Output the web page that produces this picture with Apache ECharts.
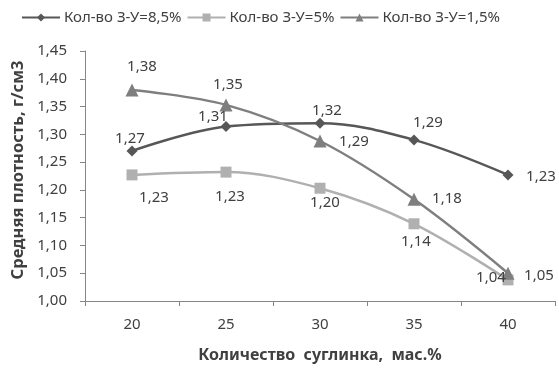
<!DOCTYPE html>
<html>
<head>
<meta charset="utf-8">
<script src="https://cdn.jsdelivr.net/npm/echarts@6/dist/echarts.min.js"></script>
<style>
html,body{margin:0;padding:0;background:#fff;}
#chart{width:559px;height:369px;}
</style>
</head>
<body>
<div id="chart"></div>
<script>
var categories = ['20', '25', '30', '35', '40'];
var seriesNames = ['Кол-во З-У=8,5%', 'Кол-во З-У=5%', 'Кол-во З-У=1,5%'];
var values85 = [1.27, 1.314, 1.32, 1.29, 1.227];
var values5 = [1.227, 1.232, 1.203, 1.139, 1.038];
var values15 = [1.38, 1.353, 1.288, 1.183, 1.05];
var yTicks = { min: 1.0, max: 1.45, interval: 0.05 };
var yAxisTitle = 'Средняя плотность, г/см3';
var xAxisTitle = 'Количество  суглинка,  мас.%';

// label placement (style): offset of label centre from point centre
var offs85 = [[-2, -12], [-13, -10], [7, -12], [14, -17], [33, 2]];
var offs5 = [[22, 23], [4, 25], [5, 15], [2, 18], [-17, -2]];
var offs15 = [[10, -23], [2, -20], [34, 1], [33, -1], [31, 3]];

var FONT = 'Noto Sans';
var TXT = '#404040';

function fmt(v) { return v.toFixed(2).replace('.', ','); }

function buildData(vals, offs) {
  return vals.map(function (v, i) {
    return { value: v, label: { offset: offs[i] } };
  });
}

function mkSeries(name, vals, offs, color, symbol, size) {
  return {
    name: name,
    type: 'line',
    smooth: 0.35,
    data: buildData(vals, offs),
    symbol: symbol,
    symbolSize: size,
    lineStyle: { color: color, width: 2.5 },
    itemStyle: { color: color },
    label: {
      show: true,
      position: 'inside',
      formatter: function (p) { return fmt(p.value); },
      fontFamily: FONT,
      fontSize: 15,
      color: TXT
    },
    emphasis: { disabled: true },
    z: 2
  };
}

var chart = echarts.init(document.getElementById('chart'));
chart.setOption({
  animation: false,
  backgroundColor: '#fff',
  legend: {
    top: 5,
    left: 16,
    itemWidth: 38,
    itemHeight: 10,
    itemGap: 5,
    textStyle: { fontFamily: FONT, fontSize: 15, color: TXT, padding: [0, 0, 0, -1] },
    data: seriesNames
  },
  grid: { left: 85, right: 4, top: 51, bottom: 68 },
  xAxis: {
    type: 'category',
    data: categories,
    boundaryGap: true,
    name: xAxisTitle,
    nameLocation: 'middle',
    nameGap: 46,
    nameTextStyle: { fontFamily: FONT, fontSize: 16, fontWeight: 'bold', color: TXT },
    axisLine: { lineStyle: { color: '#868686', width: 1 } },
    axisTick: { show: true, length: 5, lineStyle: { color: '#868686' } },
    axisLabel: { fontFamily: FONT, fontSize: 15, color: TXT, margin: 16 },
    splitLine: { show: false }
  },
  yAxis: {
    type: 'value',
    min: yTicks.min,
    max: yTicks.max,
    interval: yTicks.interval,
    name: yAxisTitle,
    nameLocation: 'middle',
    nameGap: 55,
    nameTextStyle: { fontFamily: FONT, fontSize: 16.5, fontWeight: 'bold', color: TXT, padding: [0, 0, 0, 12] },
    axisLine: { show: true, lineStyle: { color: '#868686', width: 1 } },
    axisTick: { show: true, length: 5, lineStyle: { color: '#868686' } },
    axisLabel: { fontFamily: FONT, fontSize: 15, color: TXT, margin: 18,
      formatter: function (v) { return v.toFixed(2).replace('.', ','); } },
    splitLine: { show: false }
  },
  series: [
    mkSeries(seriesNames[0], values85, offs85, '#575757', 'diamond', 11),
    mkSeries(seriesNames[1], values5, offs5, '#b0b0b0', 'rect', 11),
    mkSeries(seriesNames[2], values15, offs15, '#7f7f7f', 'triangle', 13)
  ]
});
</script>
</body>
</html>
